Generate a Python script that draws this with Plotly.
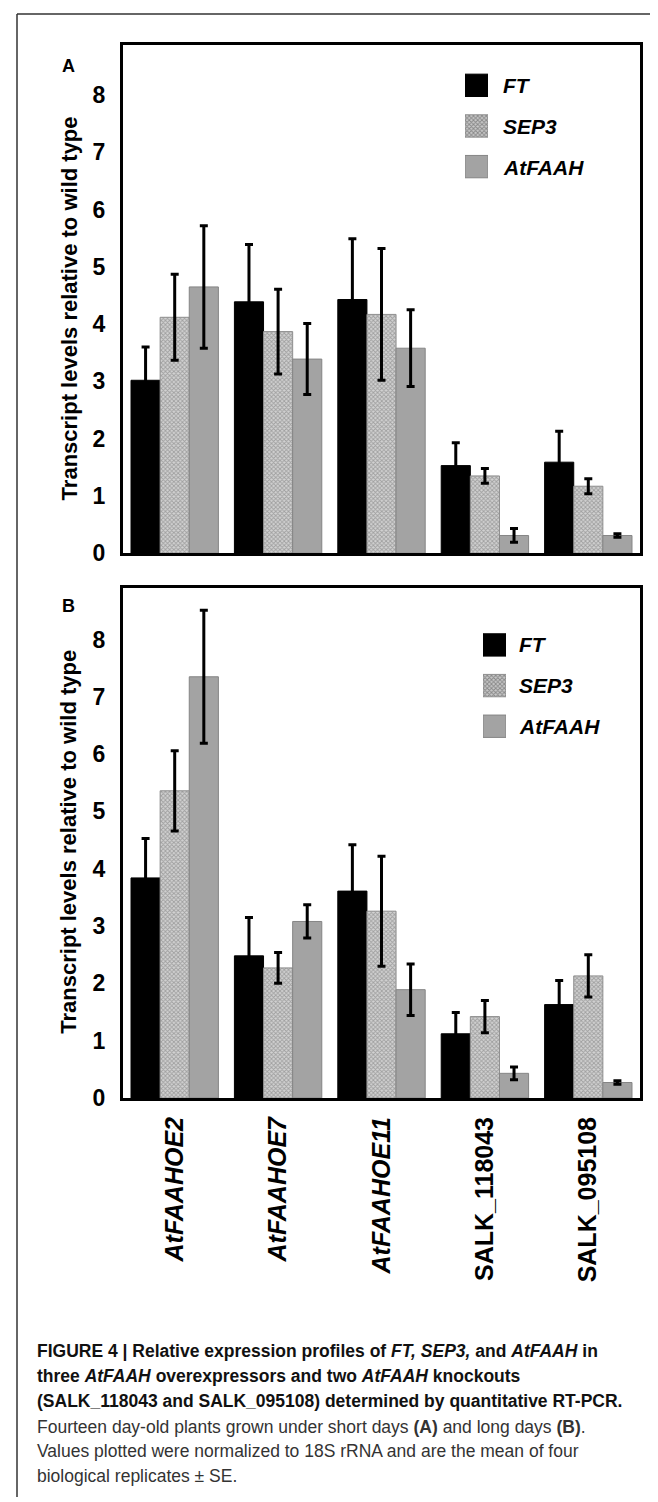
import plotly.graph_objects as go

W, H = 658, 1502

lines = ["AtFAAHOE2", "AtFAAHOE7", "AtFAAHOE11", "SALK_118043", "SALK_095108"]
tick_text = ["<i>AtFAAHOE2</i>", "<i>AtFAAHOE7</i>", "<i>AtFAAHOE11</i>", "SALK_118043", "SALK_095108"]
series = ["FT", "SEP3", "AtFAAH"]

# Panel A (short days)
a_ft = [3.02, 4.39, 4.43, 1.53, 1.59]
a_ft_se = [0.58, 1.00, 1.06, 0.40, 0.54]
a_sep3 = [4.12, 3.87, 4.17, 1.35, 1.17]
a_sep3_se = [0.75, 0.74, 1.15, 0.13, 0.13]
a_faah = [4.65, 3.39, 3.58, 0.31, 0.31]
a_faah_se = [1.07, 0.62, 0.67, 0.12, 0.03]

# Panel B (long days)
b_ft = [3.84, 2.48, 3.61, 1.12, 1.63]
b_ft_se = [0.69, 0.67, 0.81, 0.37, 0.42]
b_sep3 = [5.36, 2.27, 3.26, 1.42, 2.13]
b_sep3_se = [0.70, 0.27, 0.96, 0.28, 0.37]
b_faah = [7.35, 3.08, 1.89, 0.43, 0.27]
b_faah_se = [1.16, 0.29, 0.45, 0.11, 0.03]

y_ticks = [0, 1, 2, 3, 4, 5, 6, 7, 8]

FONT = "Liberation Sans, Arial, Helvetica, sans-serif"

SEP3_PATTERN = dict(shape="x", size=3, solidity=0.5, fgcolor="#6c6c6c", bgcolor="#d2d2d2")

styles = {
    "FT": dict(color="#000000", line=dict(color="#000000", width=1)),
    "SEP3": dict(color="#c8c8c8", line=dict(color="#8e8e8e", width=1), pattern=SEP3_PATTERN),
    "AtFAAH": dict(color="#a3a3a3", line=dict(color="#858585", width=1)),
}

def px_x(p):
    return p / W

def px_y(p):
    return 1 - p / H

fig = go.Figure()

panel_data = [
    ("x", "y", [a_ft, a_sep3, a_faah], [a_ft_se, a_sep3_se, a_faah_se]),
    ("x2", "y2", [b_ft, b_sep3, b_faah], [b_ft_se, b_sep3_se, b_faah_se]),
]
for xa, ya, vals, ses in panel_data:
    for name, v, se in zip(series, vals, ses):
        fig.add_trace(go.Bar(
            x=lines, y=v, name=name, xaxis=xa, yaxis=ya, showlegend=False,
            marker=styles[name],
            error_y=dict(type="data", array=se, visible=True, color="#000000", thickness=3, width=4),
        ))

# legend swatches drawn as bars in small hidden subplots
sw_colors = ["#000000", "#c8c8c8", "#a3a3a3"]
sw_lines = ["#000000", "#8e8e8e", "#858585"]
sw_shapes = ["", "x", ""]
for xa, ya in [("x3", "y3"), ("x4", "y4")]:
    fig.add_trace(go.Bar(
        y=series, x=[1, 1, 1], orientation="h", xaxis=xa, yaxis=ya, showlegend=False,
        width=0.55,
        marker=dict(color=sw_colors, line=dict(color=sw_lines, width=1),
                    pattern=dict(shape=sw_shapes, size=3, solidity=0.5, fgcolor="#6c6c6c", bgcolor="#d2d2d2")),
        hoverinfo="skip",
    ))

frame = dict(showline=True, linewidth=3, linecolor="#000000", mirror=True, showgrid=False, zeroline=False)

xdom = [px_x(115), px_x(632)]
fig.update_layout(
    width=W, height=H, margin=dict(l=0, r=0, t=0, b=0),
    paper_bgcolor="white", plot_bgcolor="white",
    barmode="group", bargap=0.155, bargroupgap=0,
    font=dict(family=FONT, color="#000000"),
    xaxis=dict(domain=xdom, anchor="y", range=[-0.5, 4.5], showticklabels=False, ticks="", **frame),
    yaxis=dict(domain=[px_y(550), px_y(37)], anchor="x", range=[0, 8.88], tickvals=y_ticks,
               ticks="", ticklabelstandoff=10,
               tickfont=dict(size=23, weight="bold", family=FONT), **frame),
    xaxis2=dict(domain=xdom, anchor="y2", range=[-0.5, 4.5], ticks="", tickangle=-90,
                tickvals=lines, ticktext=tick_text, ticklabelstandoff=6,
                tickfont=dict(size=25, weight="bold", family=FONT), **frame),
    yaxis2=dict(domain=[px_y(1099.5), px_y(585)], anchor="x2", range=[0, 8.9], tickvals=y_ticks,
                ticks="", ticklabelstandoff=10,
                tickfont=dict(size=23, weight="bold", family=FONT), **frame),
    xaxis3=dict(domain=[px_x(457), px_x(480)], anchor="y3", range=[0, 1], visible=False),
    yaxis3=dict(domain=[px_y(180.5), px_y(57.5)], anchor="x3", range=[-0.5, 2.5],
                categoryorder="array", categoryarray=series[::-1], visible=False),
    xaxis4=dict(domain=[px_x(475), px_x(498)], anchor="y4", range=[0, 1], visible=False),
    yaxis4=dict(domain=[px_y(745), px_y(622)], anchor="x4", range=[-0.5, 2.5],
                categoryorder="array", categoryarray=series[::-1], visible=False),
)

ann = []
# legend labels
for lx, ys in [(493, [78, 119.5, 160.5]), (509, [642.5, 683.5, 724.5])]:
    for name, yy in zip(series, ys):
        ann.append(dict(x=px_x(lx), y=px_y(yy), xref="paper", yref="paper", xanchor="left", yanchor="middle",
                        text="<b><i>%s</i></b>" % name, showarrow=False,
                        font=dict(size=21, family=FONT, color="#000000")))
# y titles
for yy in [303, 841]:
    ann.append(dict(x=px_x(61), y=px_y(yy), xref="paper", yref="paper", xanchor="center", yanchor="middle",
                    text="<b>Transcript levels relative to wild type</b>", textangle=-90, showarrow=False,
                    font=dict(size=22, family=FONT, color="#000000")))
# panel letters
for letter, yy in [("A", 59), ("B", 603)]:
    ann.append(dict(x=px_x(60), y=px_y(yy), xref="paper", yref="paper", xanchor="center", yanchor="middle",
                    text="<b>%s</b>" % letter, showarrow=False, font=dict(size=18, family=FONT, color="#000000")))

caption = [
    ("<b>FIGURE 4 | Relative expression profiles of <i>FT, SEP3,</i> and <i>AtFAAH</i> in</b>", 1355, "#111111"),
    ("<b>three <i>AtFAAH</i> overexpressors and two <i>AtFAAH</i> knockouts</b>", 1380, "#111111"),
    ("<b>(SALK_118043 and SALK_095108) determined by quantitative RT-PCR.</b>", 1405, "#111111"),
    ("Fourteen day-old plants grown under short days <b>(A)</b> and long days <b>(B)</b>.", 1431, "#333333"),
    ("Values plotted were normalized to 18S rRNA and are the mean of four", 1456, "#333333"),
    ("biological replicates ± SE.", 1481, "#333333"),
]
for txt, yy, col in caption:
    ann.append(dict(x=px_x(27), y=px_y(yy), xref="paper", yref="paper", xanchor="left", yanchor="middle",
                    text=txt, showarrow=False, font=dict(size=17.5, family=FONT, color=col)))
fig.update_layout(annotations=ann)

# outer figure frame (top and left rules)
fig.add_shape(type="line", xref="paper", yref="paper", x0=px_x(9), x1=1, y0=px_y(6), y1=px_y(6),
              line=dict(color="#333333", width=1.5))
fig.add_shape(type="line", xref="paper", yref="paper", x0=px_x(9), x1=px_x(9), y0=0, y1=px_y(6),
              line=dict(color="#333333", width=1.5))

fig.write_html("out.html")
